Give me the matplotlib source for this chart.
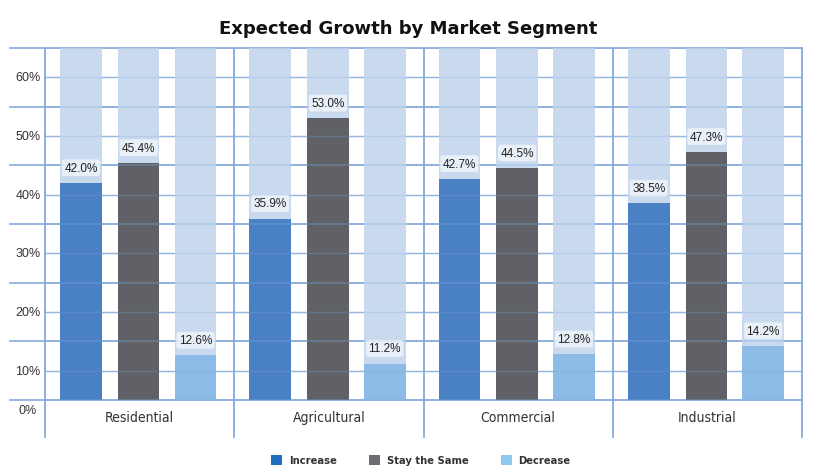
import numpy as np
import matplotlib
matplotlib.use('Agg')
import matplotlib.pyplot as plt
from matplotlib.patches import Patch

# data
segments = ['Residential', 'Agricultural', 'Commercial', 'Industrial']
series = ['Increase', 'Stay the Same', 'Decrease']
increase = [42.0, 35.9, 42.7, 38.5]
stay_same = [45.4, 53.0, 44.5, 47.3]
decrease = [12.6, 11.2, 12.8, 14.2]
tick_labels = ['0%', '10%', '20%', '30%', '40%', '50%', '60%']

bar_colors = ['#4a80c4', '#5f6166', '#8bbbe6']
legend_colors = ['#1f6fbf', '#6d6e71', '#8ec8f0']
bg_color = '#c9daef'
grid_color = '#82aadb'
narrow = dict(family='DejaVu Sans', stretch='condensed')

base, top = 5, 65
fig = plt.figure(figsize=(8.17, 4.77), dpi=100)
ax = fig.add_axes([45 / 817, 1 - 438 / 477, 757 / 817, 389 / 477])
ax.set_xlim(0, 4)
ax.set_ylim(-1.3, top)
ax.axis('off')

x = np.arange(len(segments))
offsets = [0.19, 0.495, 0.795]
width = 0.22
values = [increase, stay_same, decrease]

for off, vals, col in zip(offsets, values, bar_colors):
    ax.bar(x + off, top - base, width, bottom=base, color=bg_color, zorder=1)
    ax.bar(x + off, np.array(vals) - base, width, bottom=base, color=col, zorder=2)
    for xi, v in zip(x + off, vals):
        ax.text(xi, v + 2.6, f'{v:.1f}%', ha='center', va='center', fontsize=8.5,
                family=['Liberation Sans', 'DejaVu Sans'], color='#222222', zorder=4,
                bbox=dict(boxstyle='round,pad=0.2', fc='white', ec='none', alpha=0.6))

# grid: odd 5% lines run into the label margin, 10% lines stay in the frame
x_left = -35 / (757 / 4)
for yv in range(base, top + 1, 10):
    ax.plot([x_left, 4], [yv, yv], color=grid_color, lw=1.2, clip_on=False, zorder=0)
    ax.plot([0, 4], [yv, yv], color=grid_color, lw=1.2, alpha=0.35, zorder=3)
for yv in range(10, 61, 10):
    ax.plot([0, 4], [yv, yv], color=grid_color, lw=1.0, alpha=0.8, zorder=0)
    ax.plot([0, 4], [yv, yv], color=grid_color, lw=1.0, alpha=0.25, zorder=3)
for xv in range(0, 5):
    ax.plot([xv, xv], [-1.3, top], color=grid_color, lw=1.3, clip_on=False, zorder=3)

# y labels
label_x = -17 / (757 / 4)
label_y = [3.3, 10, 20, 30, 40, 50, 60]
for yv, t in zip(label_y, tick_labels):
    ax.text(label_x, yv, t, ha='center', va='center', fontsize=9,
            family=['Liberation Sans', 'DejaVu Sans'], color='#333333')

for xi, name in zip(x, segments):
    ax.text(xi + 0.5, 2.1, name, ha='center', va='center', fontsize=10,
            color='#333333', **narrow)

fig.text(0.5, 1 - 29 / 477, 'Expected Growth by Market Segment', ha='center',
         va='center', fontsize=13, fontweight='bold', family='DejaVu Sans',
         color='#111111')

handles = [Patch(facecolor=c, edgecolor='none', label=s)
           for c, s in zip(legend_colors, series)]
leg = fig.legend(handles=handles, loc='center', bbox_to_anchor=(0.515, 1 - 461 / 477),
                 ncol=3, frameon=False, handlelength=1.0, handleheight=1.0,
                 columnspacing=2.9, handletextpad=0.6,
                 prop={'family': 'DejaVu Sans', 'stretch': 'condensed',
                       'weight': 'bold', 'size': 8})
for t in leg.get_texts():
    t.set_color('#333333')

fig.savefig('out.png', dpi=100)
